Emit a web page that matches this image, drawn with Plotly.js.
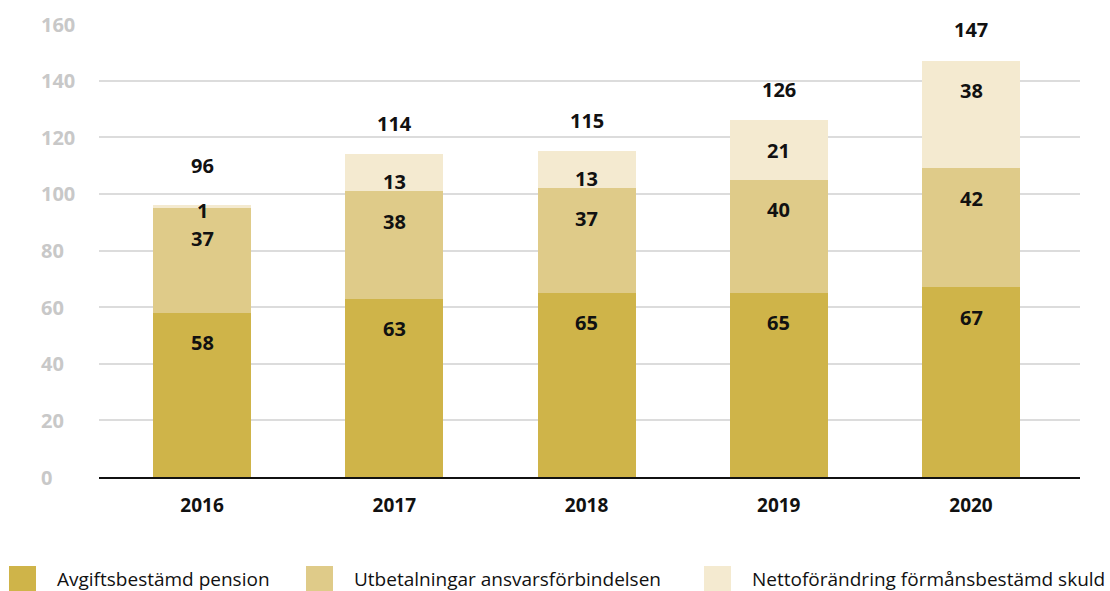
<!DOCTYPE html>
<html><head><meta charset="utf-8">
<script src="https://cdn.plot.ly/plotly-3.0.1.min.js"></script>
<style>html,body{margin:0;padding:0;background:#fff}#chart{width:1110px;height:591px}</style>
</head><body><div id="chart"></div>
<script>
const years = ['2016','2017','2018','2019','2020'];
const seriesNames = ['Avgiftsbestämd pension','Utbetalningar ansvarsförbindelsen','Nettoförändring förmånsbestämd skuld'];
const avgifts = [58, 63, 65, 65, 67];
const utbetalningar = [37, 38, 37, 40, 42];
const netto = [1, 13, 13, 21, 38];
const totals = [96, 114, 115, 126, 147];
const yTicks = [0, 20, 40, 60, 80, 100, 120, 140, 160];
const colors = ['#CFB449', '#DFCB89', '#F4EAD0'];

const font = '"Open Sans", "Noto Sans", sans-serif';
const series = [avgifts, utbetalningar, netto];
const traces = series.map((vals, i) => ({
  type: 'bar', name: seriesNames[i], x: years, y: vals,
  marker: {color: colors[i], line: {width: 0}}, hoverinfo: 'skip', showlegend: false
}));

const plotW = 1110 - 99 - 30, plotH = 591 - 24 - 114;
const px2x = p => (p - 99) / plotW;
const py2y = p => (591 - 114 - p) / plotH;
const pxPerUnit = plotH / 160;

const annotations = [];
years.forEach((yr, j) => {
  let base = 0;
  series.forEach((vals, i) => {
    const v = vals[j];
    const top = base + v;
    const tiny = v * pxPerUnit < 20;
    const small = v * pxPerUnit < 45;
    annotations.push({x: j, y: top, xref: 'x', yref: 'y', text: String(v), showarrow: false,
      yshift: tiny ? -5 : (small ? -27 : -30), font: {family: font, size: 20, color: '#111', weight: 700}});
    base = top;
  });
  const smallTop = netto[j] * pxPerUnit < 20;
  annotations.push({x: j, y: totals[j], xref: 'x', yref: 'y', text: String(totals[j]), showarrow: false,
    yshift: smallTop ? 40 : 31, font: {family: font, size: 20, color: '#111', weight: 700}});
});
yTicks.forEach(t => {
  annotations.push({x: px2x(39), xref: 'paper', y: t, yref: 'y', xanchor: 'left', text: String(t), showarrow: false,
    font: {family: font, size: 20, color: '#C8C8C8', weight: 700}});
});
const shapes = [];
const legendX = [9, 306, 704];
seriesNames.forEach((n, i) => {
  shapes.push({type: 'rect', xref: 'paper', yref: 'paper',
    x0: px2x(legendX[i]), x1: px2x(legendX[i] + 27), y0: py2y(592), y1: py2y(566),
    fillcolor: colors[i], line: {width: 0}});
  annotations.push({xref: 'paper', yref: 'paper', x: px2x(legendX[i] + 47), y: py2y(579),
    xanchor: 'left', yanchor: 'middle', text: n, showarrow: false, borderpad: 0,
    font: {family: font, size: 19, color: '#111'}});
});

const layout = {
  width: 1110, height: 591,
  margin: {l: 99, r: 30, t: 24, b: 114},
  paper_bgcolor: '#fff', plot_bgcolor: '#fff',
  barmode: 'stack', bargap: 0.49,
  font: {family: font},
  xaxis: {type: 'category', range: [-0.536, 4.567], tickfont: {family: font, size: 19, color: '#111', weight: 700},
    showgrid: false, showline: true, linecolor: '#111', linewidth: 2, ticks: '', ticklabelstandoff: 10},
  yaxis: {range: [0, 160], tickvals: yTicks, showticklabels: false, showgrid: true,
    gridcolor: '#DCDCDC', gridwidth: 2, zeroline: false, showline: false},
  showlegend: false,
  annotations: annotations,
  shapes: shapes
};
Plotly.newPlot('chart', traces, layout, {displayModeBar: false, staticPlot: true});
</script></body></html>
